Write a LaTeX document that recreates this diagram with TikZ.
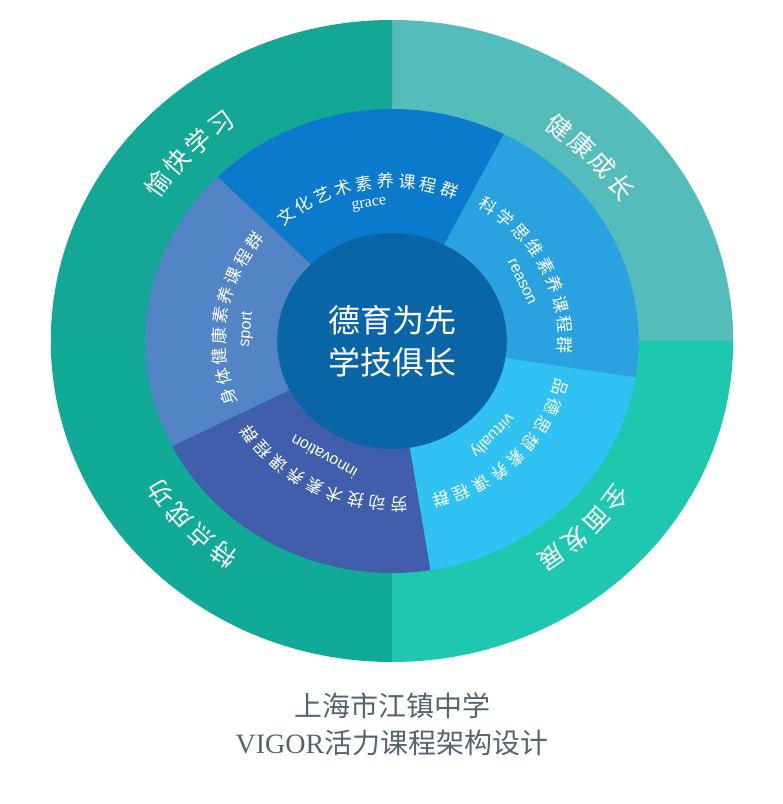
\documentclass[tikz,border=0pt]{standalone}
\usepackage{xcolor}
\usepackage{fontspec}
\setmainfont{Liberation Serif}
\setsansfont{Liberation Sans}
\newfontfamily\cjk{Noto Sans CJK SC}
\usetikzlibrary{positioning}

\definecolor{quadTL}{HTML}{13A896}
\definecolor{quadTR}{HTML}{54BDBB}
\definecolor{quadBR}{HTML}{1EC8AF}
\definecolor{quadBL}{HTML}{11AA97}
\definecolor{secGrace}{HTML}{0C7ACC}
\definecolor{secReason}{HTML}{2AA2E0}
\definecolor{secVirtue}{HTML}{30C2F2}
\definecolor{secInnov}{HTML}{405EAC}
\definecolor{secSport}{HTML}{5384C6}
\definecolor{hub}{HTML}{0A65A6}
\definecolor{titlegray}{HTML}{56656D}

\tikzset{
  ringlabel/.style={text=white, inner sep=0pt, font=\cjk\fontsize{25}{25}\selectfont},
  seclabel/.style={text=white, inner sep=0pt, font=\cjk\fontsize{17}{17}\selectfont},
  engword/.style={text=white, inner sep=0pt, font=\sffamily\fontsize{16}{16}\selectfont},
  hubtext/.style={text=white, align=center, font=\cjk\fontsize{32}{42}\selectfont},
  titletext/.style={text=titlegray, font=\cjk\fontsize{28}{28}\selectfont}
}

% style, name, mid angle, radius, step, count, characters
\newcommand{\curvedlabel}[7]{%
  \foreach \ch [count=\k] in {#7} {
    \pgfmathsetmacro{\ang}{#3+((#6+1)/2-\k)*#5}
    \node[#1, rotate=\ang-90] (#2-\k) at (\ang:#4) {\ch};
  }}

\begin{document}
\begin{tikzpicture}[x=1pt, y=1pt]
\useasboundingbox (0,0) rectangle (783,804);
\begin{scope}[shift={(392,463)}, xscale=1.063]
% outer quadrants
\fill[quadTR] (0,0) -- (0:321) arc[start angle=0, end angle=90, radius=321] -- cycle;
\fill[quadTL] (0,0) -- (90:321) arc[start angle=90, end angle=180, radius=321] -- cycle;
\fill[quadBL] (0,0) -- (180:321) arc[start angle=180, end angle=270, radius=321] -- cycle;
\fill[quadBR] (0,0) -- (270:321) arc[start angle=270, end angle=360, radius=321] -- cycle;
% course sectors
\foreach \a/\col in {63/secGrace, 135/secSport, 207/secInnov, 279/secVirtue, 351/secReason} {
  \fill[\col] (0,0) -- (\a:232) arc[start angle=\a, end angle=\a+72, radius=232] -- cycle;
}
\fill[hub] (0,0) circle (108);
\node[hubtext] (hub) at (0,0) {德育为先\\学技俱长};

% outer ring labels
\curvedlabel{ringlabel}{happy}{135.5}{270}{6}{4}{愉,快,学,习}
\curvedlabel{ringlabel}{health}{44.6}{265}{6}{4}{健,康,成,长}
\curvedlabel{ringlabel}{whole}{314}{263}{6.2}{4}{全,面,发,展}
\curvedlabel{ringlabel}{feature}{224.3}{266}{6.2}{4}{特,点,成,功}

% sector labels
\curvedlabel{seclabel}{grace}{99.5}{160}{7.3}{9}{文,化,艺,术,素,养,课,程,群}
\curvedlabel{seclabel}{reason}{27.5}{163}{7.2}{9}{科,学,思,维,素,养,课,程,群}
\curvedlabel{seclabel}{virtue}{315}{165}{7.2}{9}{品,德,思,想,素,养,课,程,群}
\curvedlabel{seclabel}{innov}{243.5}{163}{7.2}{9}{劳,动,技,术,素,养,课,程,群}
\curvedlabel{seclabel}{sport}{171}{163}{7.2}{9}{身,体,健,康,素,养,课,程,群}

\node[engword, font=\rmfamily\fontsize{16}{16}\selectfont, rotate=9] (w-grace) at (99:138) {grace};
\node[engword, rotate=-64] (w-reason) at (26:136) {reason};
\node[engword, rotate=85] (w-sport) at (175:137) {sport};
\node[engword, rotate=151] (w-innov) at (241:132) {innovation};
\node[engword, rotate=225] (w-virtue) at (315:133) {virtually};
\end{scope}

% title
\node[titletext] (school) at (392,98) {上海市江镇中学};
\node[titletext, below=4pt of school] (plan) {{\rmfamily VIGOR}活力课程架构设计};
\end{tikzpicture}
\end{document}
